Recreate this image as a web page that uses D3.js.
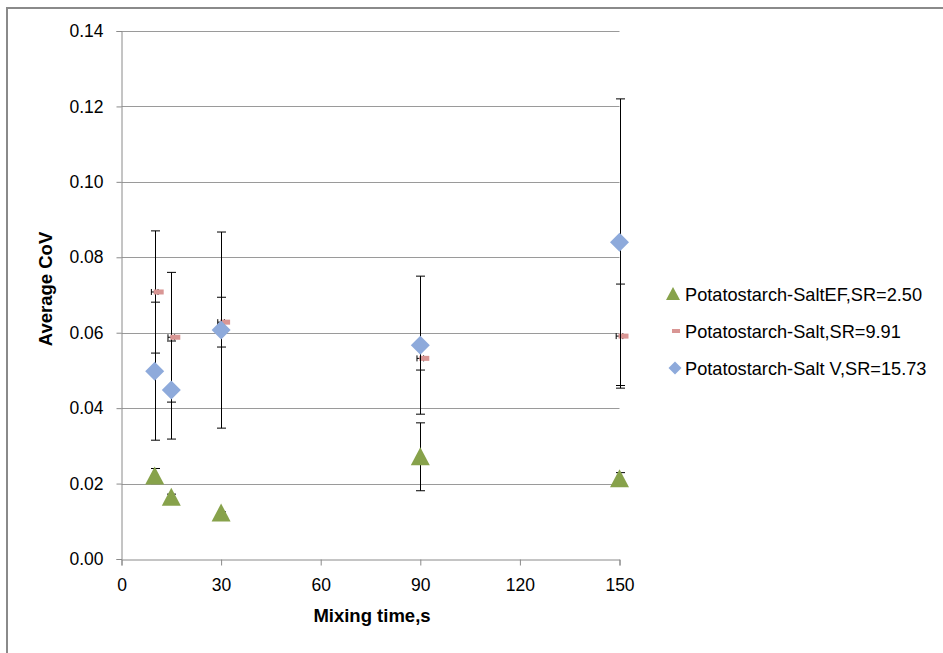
<!DOCTYPE html>
<html>
<head>
<meta charset="utf-8">
<script src="https://cdn.jsdelivr.net/npm/d3@7"></script>
<style>
  html, body { margin: 0; padding: 0; background: #fff; }
  svg { display: block; }
  text { font-family: "Liberation Sans", Arial, sans-serif; fill: #000; }
</style>
</head>
<body>
<svg id="chart" width="943" height="653"></svg>
<script>
// ---- data ----
const times = [10, 15, 30, 90, 150];
const efValues   = [0.0220, 0.0164, 0.0122, 0.0271, 0.0213];
const efErrors   = [0.0020, 0.0008, 0.0003, 0.0090, 0.0016];
const saltValues = [0.0708, 0.0588, 0.0628, 0.0532, 0.0591];
const saltErrors = [0.0162, 0.0172, 0.0066, 0.0031, 0.0138];
const saltXErrors = [1, 1, 1, 1, 1];
const saltVValues = [0.0498, 0.0448, 0.0607, 0.0567, 0.0840];
const saltVErrors = [0.0183, 0.0130, 0.0260, 0.0183, 0.0380];
const seriesNames = ["Potatostarch-SaltEF,SR=2.50", "Potatostarch-Salt,SR=9.91", "Potatostarch-Salt V,SR=15.73"];
const xTicks = [0, 30, 60, 90, 120, 150];
const yTicks = [0, 0.02, 0.04, 0.06, 0.08, 0.10, 0.12, 0.14];
const xTitle = "Mixing time,s";
const yTitle = "Average CoV";

const colors = ["#87A24B", "#D99694", "#8EAADB"];

const svg = d3.select("#chart");

// outer frame (top + left)
svg.append("line").attr("x1", 6).attr("x2", 943).attr("y1", 8).attr("y2", 8)
  .attr("stroke", "#8a8a8a").attr("stroke-width", 2);
svg.append("line").attr("x1", 7).attr("x2", 7).attr("y1", 7).attr("y2", 653)
  .attr("stroke", "#8a8a8a").attr("stroke-width", 2);

const x = d3.scaleLinear().domain([0, 150]).range([121.5, 619.5]);
const y = d3.scaleLinear().domain([0, 0.14]).range([559, 31]);

// gridlines
svg.append("g").selectAll("line").data(yTicks.filter(d => d > 0)).join("line")
  .attr("x1", x(0)).attr("x2", x(150))
  .attr("y1", d => Math.round(y(d)) + 0.5).attr("y2", d => Math.round(y(d)) + 0.5)
  .attr("stroke", "#9a9a9a").attr("stroke-width", 1);

// axes
const yAxis = svg.append("g").attr("transform", `translate(${x(0)},0)`)
  .call(d3.axisLeft(y).tickValues(yTicks).tickFormat(d3.format(".2f")).tickSize(5).tickPadding(13));
const xAxis = svg.append("g").attr("transform", `translate(0,${Math.round(y(0)) + 0.5})`)
  .call(d3.axisBottom(x).tickValues(xTicks).tickFormat(d3.format("d")).tickSize(6).tickPadding(13));
[yAxis, xAxis].forEach(g => {
  g.select(".domain").attr("stroke", "#8a8a8a");
  g.selectAll(".tick line").attr("stroke", "#8a8a8a");
  g.selectAll(".tick text").attr("font-size", 17.5).attr("font-family", "'Liberation Sans', Arial, sans-serif").attr("fill", "#000");
});

// axis titles
svg.append("text").attr("x", 372).attr("y", 622).attr("text-anchor", "middle")
  .attr("font-size", 18.5).attr("font-weight", "bold").text(xTitle);
svg.append("text").attr("transform", "translate(52,289) rotate(-90)").attr("text-anchor", "middle")
  .attr("font-size", 18.5).attr("font-weight", "bold").text(yTitle);

const capW = 4.5;

function drawErrorBars(vals, errs) {
  const g = svg.append("g").attr("stroke", "#000").attr("stroke-width", 1);
  times.forEach((t, i) => {
    const cx = Math.round(x(t)) + 0.5;
    const y1 = y(vals[i] + errs[i]), y2 = y(vals[i] - errs[i]);
    g.append("line").attr("x1", cx).attr("x2", cx).attr("y1", y1).attr("y2", y2);
    g.append("line").attr("x1", cx - capW).attr("x2", cx + capW).attr("y1", y1).attr("y2", y1);
    g.append("line").attr("x1", cx - capW).attr("x2", cx + capW).attr("y1", y2).attr("y2", y2);
  });
}
function drawXErrorBars(vals, xerrs) {
  const g = svg.append("g").attr("stroke", "#000").attr("stroke-width", 1);
  times.forEach((t, i) => {
    const cy = y(vals[i]);
    const xa = x(t - xerrs[i]), xb = x(t + xerrs[i]);
    g.append("line").attr("x1", xa).attr("x2", xb).attr("y1", cy).attr("y2", cy);
    g.append("line").attr("x1", xa).attr("x2", xa).attr("y1", cy - 3).attr("y2", cy + 3);
    g.append("line").attr("x1", xb).attr("x2", xb).attr("y1", cy - 3).attr("y2", cy + 3);
  });
}

const triPath = "M0,-9.5L9.5,8.5L-9.5,8.5Z";
const diaPath = "M0,-9.5L9.5,0L0,9.5L-9.5,0Z";

// series 1: triangles
drawErrorBars(efValues, efErrors);
svg.append("g").selectAll("path").data(times).join("path")
  .attr("d", triPath).attr("fill", colors[0])
  .attr("transform", (t, i) => `translate(${x(t)},${y(efValues[i])})`);

// series 2: dash
drawErrorBars(saltValues, saltErrors);
drawXErrorBars(saltValues, saltXErrors);
svg.append("g").selectAll("rect").data(times).join("rect")
  .attr("x", t => x(t) - 1).attr("y", (t, i) => y(saltValues[i]) - 2.5)
  .attr("width", 10).attr("height", 5).attr("fill", colors[1]);

// series 3: diamonds
drawErrorBars(saltVValues, saltVErrors);
svg.append("g").selectAll("path").data(times).join("path")
  .attr("d", diaPath).attr("fill", colors[2])
  .attr("transform", (t, i) => `translate(${x(t)},${y(saltVValues[i])})`);

// legend
const legY = [294, 331, 368];
const leg = svg.append("g");
leg.append("path").attr("d", "M0,-7L7,6L-7,6Z").attr("fill", colors[0])
  .attr("transform", `translate(673,${legY[0]})`);
leg.append("rect").attr("x", 672).attr("y", legY[1] - 2).attr("width", 8).attr("height", 4).attr("fill", colors[1]);
leg.append("path").attr("d", "M0,-6.5L6.5,0L0,6.5L-6.5,0Z").attr("fill", colors[2])
  .attr("transform", `translate(675,${legY[2]})`);
seriesNames.forEach((n, i) => {
  leg.append("text").attr("x", 685).attr("y", legY[i]).attr("dy", "0.36em")
    .attr("font-size", 18.2).text(n);
});
</script>
</body>
</html>
